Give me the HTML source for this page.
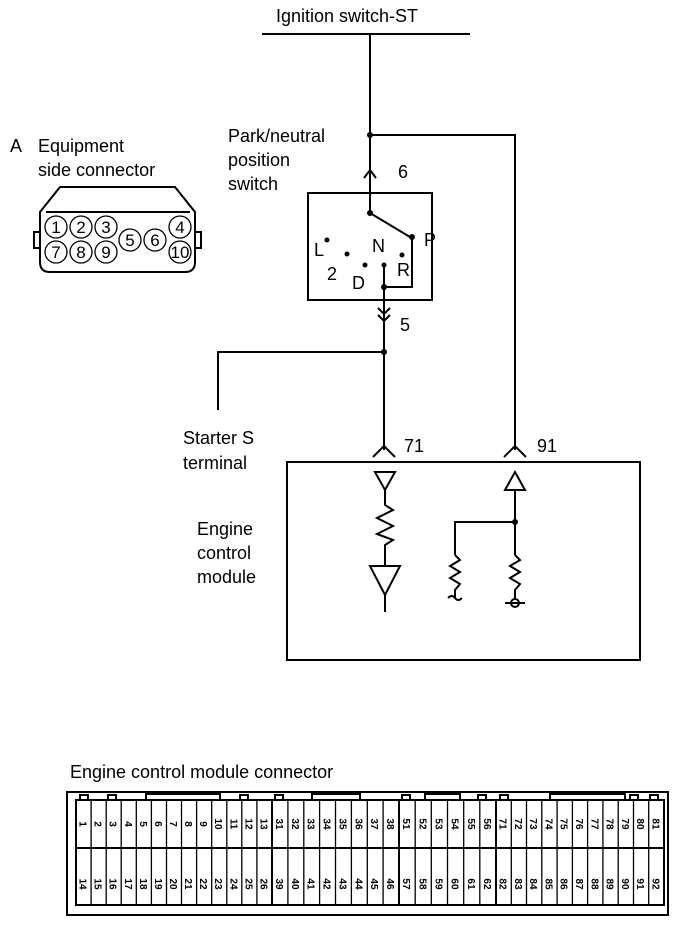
<!DOCTYPE html>
<html><head><style>body{margin:0;background:#fff}svg{display:block}text{font-family:"Liberation Sans",sans-serif;fill:#000}</style></head><body>
<svg width="688" height="926" viewBox="0 0 688 926" xmlns="http://www.w3.org/2000/svg">
<g stroke="#000" stroke-width="2" fill="none">
<line x1="262" y1="34" x2="470" y2="34"/>
<line x1="370" y1="34" x2="370" y2="213"/>
<polyline points="370,135 515,135 515,450"/>
<polyline points="364,178 370,170 376,178"/>
<rect x="308" y="193" width="124" height="107"/>
<line x1="370" y1="213" x2="410" y2="237"/>
<polyline points="412,237 412,287 384,287"/>
<line x1="384" y1="265" x2="384" y2="450"/>
<polyline points="378,308 384,314 390,308"/><polyline points="378,315 384,321 390,315"/>
<polyline points="384,352 218,352 218,410"/>
<polyline points="373,457 384,446 395,457"/>
<polyline points="504,457 515,446 526,457"/>
<rect x="287" y="462" width="353" height="198"/>
<polygon points="375,472 395,472 385,490"/>
<polyline points="385,490 385,505 393,510 377,518 393,526 377,534 393,540 385,545 385,565"/>
<polygon points="370,566 400,566 385,595"/>
<line x1="385" y1="595" x2="385" y2="612"/>
<polygon points="505,490 525,490 515,472"/>
<line x1="515" y1="490" x2="515" y2="555"/>
<polyline points="515,522 455,522 455,555"/>
<polyline points="455,555 460,560 450,566 460,572 450,578 460,584 455,590 455,598"/>
<path d="M448,598 q4,-4 7,0 q3,4 7,0"/>
<polyline points="515,555 520,560 510,566 520,572 510,578 520,584 515,590 515,598"/>
<circle cx="515" cy="603" r="4"/><line x1="505" y1="603" x2="525" y2="603"/>
<path d="M40,212 L60,187 H175 L195,212 V262 Q195,272 185,272 H50 Q40,272 40,262 Z"/>
<line x1="46" y1="212" x2="190" y2="212"/>
<rect x="34" y="232" width="6" height="16"/><rect x="195" y="232" width="6" height="16"/>
</g>
<g fill="#000">
<circle cx="370" cy="135" r="3"/><circle cx="370" cy="213" r="3"/><circle cx="412" cy="237" r="3"/>
<circle cx="327" cy="240" r="2.5"/><circle cx="347" cy="254" r="2.5"/><circle cx="365" cy="265" r="2.5"/><circle cx="384" cy="265" r="2.5"/><circle cx="402" cy="255" r="2.5"/>
<circle cx="384" cy="287" r="3"/><circle cx="384" cy="352" r="3"/><circle cx="515" cy="522" r="3"/>
</g>
<g font-size="18">
<text x="276" y="22">Ignition switch-ST</text>
<text x="228" y="142">Park/neutral</text><text x="228" y="166">position</text><text x="228" y="190">switch</text>
<text x="398" y="178">6</text>
<text x="372" y="252">N</text><text x="424" y="246">P</text><text x="397" y="276">R</text>
<text x="314" y="256">L</text><text x="327" y="280">2</text><text x="352" y="289">D</text>
<text x="400" y="331">5</text>
<text x="183" y="444">Starter S</text><text x="183" y="469">terminal</text>
<text x="404" y="452">71</text><text x="537" y="452">91</text>
<text x="197" y="535">Engine</text><text x="197" y="559">control</text><text x="197" y="583">module</text>
<text x="10" y="152">A</text><text x="38" y="152">Equipment</text><text x="38" y="176">side connector</text>
<text x="70" y="778">Engine control module connector</text>
</g>
<g stroke="#000" stroke-width="1.3" fill="none">
<circle cx="56" cy="227" r="11"/><circle cx="81" cy="227" r="11"/><circle cx="106" cy="227" r="11"/>
<circle cx="56" cy="252" r="11"/><circle cx="81" cy="252" r="11"/><circle cx="106" cy="252" r="11"/>
<circle cx="130" cy="240" r="11"/><circle cx="155" cy="240" r="11"/><circle cx="180" cy="227" r="11"/><circle cx="180" cy="252" r="11"/>
</g>
<g font-size="17" text-anchor="middle">
<text x="56" y="233">1</text><text x="81" y="233">2</text><text x="106" y="233">3</text><text x="180" y="233">4</text>
<text x="56" y="258">7</text><text x="81" y="258">8</text><text x="106" y="258">9</text><text x="180" y="258">10</text>
<text x="130" y="246">5</text><text x="155" y="246">6</text>
</g>
<g stroke="#000" stroke-width="2" fill="none">
<rect x="67" y="792" width="601" height="123"/>
<rect x="76" y="800" width="588" height="105"/>
<line x1="76" y1="848" x2="664" y2="848"/>
<line x1="272" y1="800" x2="272" y2="905"/><line x1="399" y1="800" x2="399" y2="905"/><line x1="496" y1="800" x2="496" y2="905"/>
<polyline points="146,800 146,794 220,794 220,800"/><polyline points="312,800 312,794 360,794 360,800"/><polyline points="425,800 425,794 460,794 460,800"/><polyline points="550,800 550,794 625,794 625,800"/>
<rect x="80" y="795" width="8" height="5"/><rect x="108" y="795" width="8" height="5"/><rect x="240" y="795" width="8" height="5"/><rect x="275" y="795" width="8" height="5"/><rect x="402" y="795" width="8" height="5"/><rect x="478" y="795" width="8" height="5"/><rect x="500" y="795" width="8" height="5"/><rect x="630" y="795" width="8" height="5"/><rect x="650" y="795" width="8" height="5"/>
</g>
<path stroke="#000" stroke-width="1.3" fill="none" d="M91.1,800V905M106.2,800V905M121.2,800V905M136.3,800V905M151.4,800V905M166.5,800V905M181.5,800V905M196.6,800V905M211.7,800V905M226.8,800V905M241.8,800V905M256.9,800V905M287.9,800V905M303.8,800V905M319.6,800V905M335.5,800V905M351.4,800V905M367.3,800V905M383.1,800V905M415.2,800V905M431.3,800V905M447.5,800V905M463.7,800V905M479.8,800V905M511.3,800V905M526.5,800V905M541.8,800V905M557.1,800V905M572.4,800V905M587.6,800V905M602.9,800V905M618.2,800V905M633.5,800V905M648.7,800V905"/>
<g font-size="10" font-weight="bold" text-anchor="middle">
<text x="83.5" y="824" dy="4" transform="rotate(90 83.5 824)">1</text>
<text x="98.6" y="824" dy="4" transform="rotate(90 98.6 824)">2</text>
<text x="113.7" y="824" dy="4" transform="rotate(90 113.7 824)">3</text>
<text x="128.8" y="824" dy="4" transform="rotate(90 128.8 824)">4</text>
<text x="143.8" y="824" dy="4" transform="rotate(90 143.8 824)">5</text>
<text x="158.9" y="824" dy="4" transform="rotate(90 158.9 824)">6</text>
<text x="174" y="824" dy="4" transform="rotate(90 174 824)">7</text>
<text x="189.1" y="824" dy="4" transform="rotate(90 189.1 824)">8</text>
<text x="204.1" y="824" dy="4" transform="rotate(90 204.1 824)">9</text>
<text x="219.2" y="824" dy="4" transform="rotate(90 219.2 824)">10</text>
<text x="234.3" y="824" dy="4" transform="rotate(90 234.3 824)">11</text>
<text x="249.4" y="824" dy="4" transform="rotate(90 249.4 824)">12</text>
<text x="264.5" y="824" dy="4" transform="rotate(90 264.5 824)">13</text>
<text x="83.5" y="884" dy="4" transform="rotate(90 83.5 884)">14</text>
<text x="98.6" y="884" dy="4" transform="rotate(90 98.6 884)">15</text>
<text x="113.7" y="884" dy="4" transform="rotate(90 113.7 884)">16</text>
<text x="128.8" y="884" dy="4" transform="rotate(90 128.8 884)">17</text>
<text x="143.8" y="884" dy="4" transform="rotate(90 143.8 884)">18</text>
<text x="158.9" y="884" dy="4" transform="rotate(90 158.9 884)">19</text>
<text x="174" y="884" dy="4" transform="rotate(90 174 884)">20</text>
<text x="189.1" y="884" dy="4" transform="rotate(90 189.1 884)">21</text>
<text x="204.1" y="884" dy="4" transform="rotate(90 204.1 884)">22</text>
<text x="219.2" y="884" dy="4" transform="rotate(90 219.2 884)">23</text>
<text x="234.3" y="884" dy="4" transform="rotate(90 234.3 884)">24</text>
<text x="249.4" y="884" dy="4" transform="rotate(90 249.4 884)">25</text>
<text x="264.5" y="884" dy="4" transform="rotate(90 264.5 884)">26</text>
<text x="280" y="824" dy="4" transform="rotate(90 280 824)">31</text>
<text x="295.8" y="824" dy="4" transform="rotate(90 295.8 824)">32</text>
<text x="311.7" y="824" dy="4" transform="rotate(90 311.7 824)">33</text>
<text x="327.6" y="824" dy="4" transform="rotate(90 327.6 824)">34</text>
<text x="343.4" y="824" dy="4" transform="rotate(90 343.4 824)">35</text>
<text x="359.3" y="824" dy="4" transform="rotate(90 359.3 824)">36</text>
<text x="375.2" y="824" dy="4" transform="rotate(90 375.2 824)">37</text>
<text x="391.1" y="824" dy="4" transform="rotate(90 391.1 824)">38</text>
<text x="280" y="884" dy="4" transform="rotate(90 280 884)">39</text>
<text x="295.8" y="884" dy="4" transform="rotate(90 295.8 884)">40</text>
<text x="311.7" y="884" dy="4" transform="rotate(90 311.7 884)">41</text>
<text x="327.6" y="884" dy="4" transform="rotate(90 327.6 884)">42</text>
<text x="343.4" y="884" dy="4" transform="rotate(90 343.4 884)">43</text>
<text x="359.3" y="884" dy="4" transform="rotate(90 359.3 884)">44</text>
<text x="375.2" y="884" dy="4" transform="rotate(90 375.2 884)">45</text>
<text x="391.1" y="884" dy="4" transform="rotate(90 391.1 884)">46</text>
<text x="407.1" y="824" dy="4" transform="rotate(90 407.1 824)">51</text>
<text x="423.3" y="824" dy="4" transform="rotate(90 423.3 824)">52</text>
<text x="439.4" y="824" dy="4" transform="rotate(90 439.4 824)">53</text>
<text x="455.6" y="824" dy="4" transform="rotate(90 455.6 824)">54</text>
<text x="471.8" y="824" dy="4" transform="rotate(90 471.8 824)">55</text>
<text x="487.9" y="824" dy="4" transform="rotate(90 487.9 824)">56</text>
<text x="407.1" y="884" dy="4" transform="rotate(90 407.1 884)">57</text>
<text x="423.3" y="884" dy="4" transform="rotate(90 423.3 884)">58</text>
<text x="439.4" y="884" dy="4" transform="rotate(90 439.4 884)">59</text>
<text x="455.6" y="884" dy="4" transform="rotate(90 455.6 884)">60</text>
<text x="471.8" y="884" dy="4" transform="rotate(90 471.8 884)">61</text>
<text x="487.9" y="884" dy="4" transform="rotate(90 487.9 884)">62</text>
<text x="503.6" y="824" dy="4" transform="rotate(90 503.6 824)">71</text>
<text x="518.9" y="824" dy="4" transform="rotate(90 518.9 824)">72</text>
<text x="534.2" y="824" dy="4" transform="rotate(90 534.2 824)">73</text>
<text x="549.5" y="824" dy="4" transform="rotate(90 549.5 824)">74</text>
<text x="564.7" y="824" dy="4" transform="rotate(90 564.7 824)">75</text>
<text x="580" y="824" dy="4" transform="rotate(90 580 824)">76</text>
<text x="595.3" y="824" dy="4" transform="rotate(90 595.3 824)">77</text>
<text x="610.5" y="824" dy="4" transform="rotate(90 610.5 824)">78</text>
<text x="625.8" y="824" dy="4" transform="rotate(90 625.8 824)">79</text>
<text x="641.1" y="824" dy="4" transform="rotate(90 641.1 824)">80</text>
<text x="656.4" y="824" dy="4" transform="rotate(90 656.4 824)">81</text>
<text x="503.6" y="884" dy="4" transform="rotate(90 503.6 884)">82</text>
<text x="518.9" y="884" dy="4" transform="rotate(90 518.9 884)">83</text>
<text x="534.2" y="884" dy="4" transform="rotate(90 534.2 884)">84</text>
<text x="549.5" y="884" dy="4" transform="rotate(90 549.5 884)">85</text>
<text x="564.7" y="884" dy="4" transform="rotate(90 564.7 884)">86</text>
<text x="580" y="884" dy="4" transform="rotate(90 580 884)">87</text>
<text x="595.3" y="884" dy="4" transform="rotate(90 595.3 884)">88</text>
<text x="610.5" y="884" dy="4" transform="rotate(90 610.5 884)">89</text>
<text x="625.8" y="884" dy="4" transform="rotate(90 625.8 884)">90</text>
<text x="641.1" y="884" dy="4" transform="rotate(90 641.1 884)">91</text>
<text x="656.4" y="884" dy="4" transform="rotate(90 656.4 884)">92</text>
</g>
</svg>
</body></html>
